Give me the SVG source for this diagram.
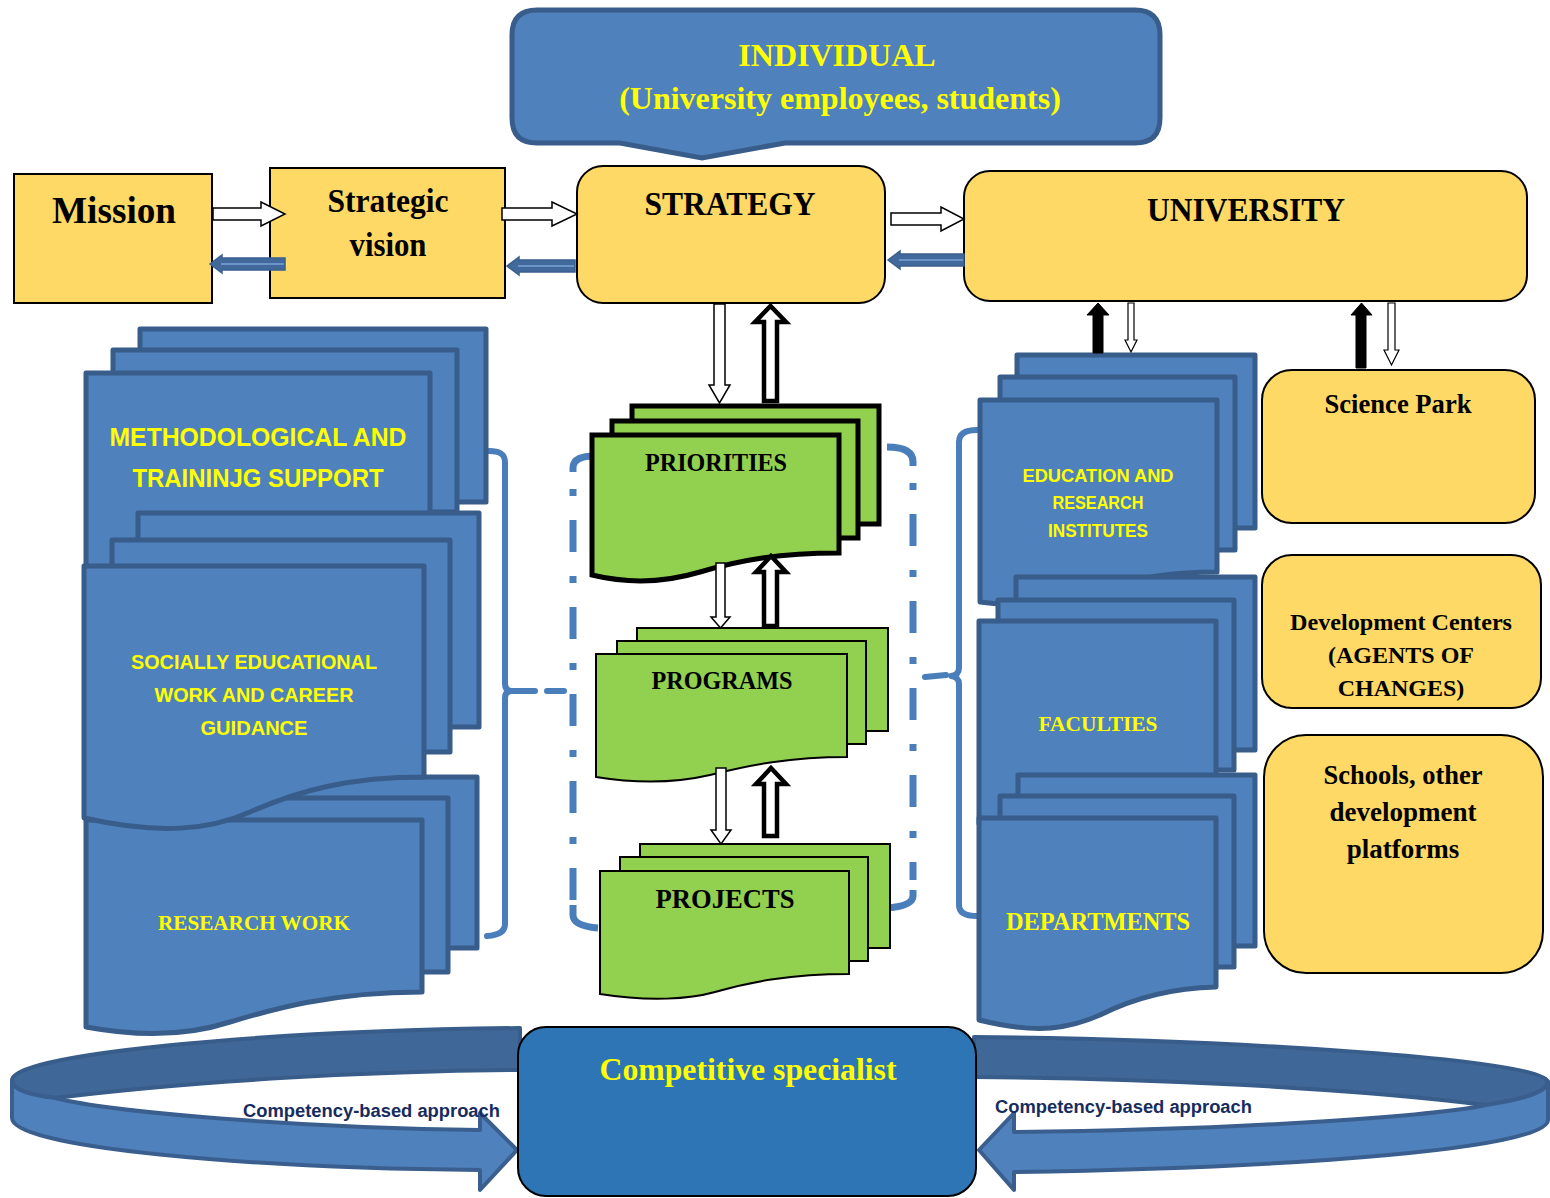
<svg xmlns="http://www.w3.org/2000/svg" width="1550" height="1198" viewBox="0 0 1550 1198">
<style>
.yb{fill:#FFD966;stroke:#000;stroke-width:2}
.doc{fill:#4F81BD;stroke:#385D8A;stroke-width:5;stroke-linejoin:round}
.g1{fill:#92D050;stroke:#000;stroke-width:5;stroke-linejoin:miter}
.g2{fill:#92D050;stroke:#000;stroke-width:2}
.ts{font-family:"Liberation Serif","Times New Roman",serif;font-weight:bold;text-anchor:middle}
.ss{font-family:"Liberation Sans",Arial,sans-serif;font-weight:bold;text-anchor:middle;fill:#FFFF00}
.yt{fill:#FFFF00}
.kt{fill:#000}
.warr{fill:#fff;stroke:#000;stroke-width:1.5;stroke-linejoin:miter}
.oarr{fill:#fff;stroke:#000;stroke-width:4.5;stroke-linejoin:miter}
.karr{fill:#000;stroke:#000;stroke-width:1}
.barr{fill:#41699B;stroke:#3A5F8E;stroke-width:1.5}
.bin{stroke:#7AA3D6;stroke-width:1.5;fill:none}
.br{fill:none;stroke:#4A7EBB;stroke-width:6;stroke-linecap:round;stroke-linejoin:round}
.hk{fill:none;stroke:#4A7EBB;stroke-width:7}
.dd{fill:none;stroke:#4A7EBB;stroke-width:7;stroke-dasharray:7 24 32 24}
.rd{fill:#3F6797;stroke:#385D8A;stroke-width:4;stroke-linejoin:round}
.rl{fill:#4F81BD;stroke:#3A5F8E;stroke-width:4;stroke-linejoin:round}
.cba{font-family:"Liberation Sans",Arial,sans-serif;font-weight:bold;fill:#172C5E;font-size:18px}
</style>

<!-- bottom ribbons -->
<g id="ribbon-left">
<path class="rd" d="M520,1028 C250,1031 12,1055 12,1080 C12,1090 30,1095 55,1098 C200,1080 380,1071 520,1070 Z"/>
<path class="rl" d="M12,1080 L12,1118 C12,1148 250,1168 480,1170 L480,1190 L517,1150 L480,1113 L480,1130 C300,1128 110,1112 55,1098 C30,1095 12,1090 12,1080 Z"/>
</g>
<g id="ribbon-right">
<path class="rd" d="M974,1037 C1250,1040 1548,1060 1548,1082 C1548,1092 1520,1100 1486,1105 C1350,1088 1150,1078 974,1077 Z"/>
<path class="rl" d="M1548,1082 L1548,1120 C1548,1148 1300,1168 1014,1172 L1014,1190 L979,1150 L1014,1113 L1014,1132 C1250,1130 1440,1115 1486,1105 C1520,1100 1548,1092 1548,1082 Z"/>
</g>

<!-- brackets -->
<g id="brackets">
<path class="br" d="M487,451 Q505,450 505,462 L505,684 Q505,691 512,691 Q505,691 505,698 L505,924 Q505,935 487,936"/>
<path class="br" d="M512,691 H535 M547,691 H564"/>
<path class="hk" d="M598,456 Q573,455 573,468 V472"/>
<path class="dd" d="M573,489 V900"/>
<path class="hk" d="M573,905 V915 Q573,926 598,928"/>
<path class="hk" d="M887,447 Q913,447 913,462 V466"/>
<path class="dd" d="M913,483 V880"/>
<path class="hk" d="M913,890 V896 Q913,906 887,908"/>
<path class="br" d="M925,677 L946,675"/>
<path class="br" d="M977,430 Q959,430 959,442 L959,668 Q959,675 951,676 Q959,677 959,684 L959,905 Q959,916 977,916"/>
</g>

<g id="individual">
<path d="M537,10 H1135 Q1160,10 1160,35 V118 Q1160,143 1135,143 H785 L702,158 L620,143 H537 Q512,143 512,118 V35 Q512,10 537,10 Z" fill="#4F81BD" stroke="#385D8A" stroke-width="5"/>
<text class="ts yt" x="837" y="66" font-size="32">INDIVIDUAL</text>
<text class="ts yt" x="840" y="109" font-size="32">(University employees, students)</text>
</g>

<g id="mission">
<rect class="yb" x="14" y="174" width="198" height="129"/>
<text class="ts kt" x="114" y="223" font-size="38" textLength="124" lengthAdjust="spacingAndGlyphs">Mission</text>
</g>
<g id="strategic-vision">
<rect class="yb" x="270" y="168" width="235" height="130"/>
<text class="ts kt" x="388" y="212" font-size="33" textLength="121" lengthAdjust="spacingAndGlyphs">Strategic</text>
<text class="ts kt" x="388" y="256" font-size="33" textLength="77" lengthAdjust="spacingAndGlyphs">vision</text>
</g>
<g id="strategy">
<rect class="yb" x="577" y="166" width="308" height="137" rx="26"/>
<text class="ts kt" x="730" y="215" font-size="33" textLength="171" lengthAdjust="spacingAndGlyphs">STRATEGY</text>
</g>
<g id="university">
<rect class="yb" x="964" y="171" width="563" height="130" rx="26"/>
<text class="ts kt" x="1246" y="221" font-size="33" textLength="198" lengthAdjust="spacingAndGlyphs">UNIVERSITY</text>
</g>

<g id="methodological">
<path class="doc" d="M140,329 H486 V502 H140 Z"/>
<path class="doc" d="M113,350 H457 V512 H113 Z"/>
<path class="doc" d="M86,373 H430 V600 H86 Z"/>
<text class="ss" x="258" y="446" font-size="26" textLength="297" lengthAdjust="spacingAndGlyphs">METHODOLOGICAL AND</text>
<text class="ss" x="258" y="487" font-size="26" textLength="251" lengthAdjust="spacingAndGlyphs">TRAININJG SUPPORT</text>
</g>

<g id="research-work">
<path class="doc" d="M140,777 H477 V948 H140 Z"/>
<path class="doc" d="M113,798 H448 V972 H113 Z"/>
<path class="doc" d="M86,820 H422 V992 C330,992 270,1010 230,1022 C190,1035 140,1037 86,1027 Z"/>
<text class="ts yt" x="254" y="930" font-size="20" textLength="192" lengthAdjust="spacingAndGlyphs">RESEARCH  WORK</text>
</g>

<g id="socially-educational">
<path class="doc" d="M138,513 H479 V727 H138 Z"/>
<path class="doc" d="M112,540 H450 V752 H112 Z"/>
<path class="doc" d="M84,566 H424 V777 C350,777 300,790 250,812 C210,830 160,835 84,818 Z"/>
<text class="ss" x="254" y="669" font-size="21" textLength="246" lengthAdjust="spacingAndGlyphs">SOCIALLY EDUCATIONAL</text>
<text class="ss" x="254" y="702" font-size="21" textLength="199" lengthAdjust="spacingAndGlyphs">WORK AND CAREER</text>
<text class="ss" x="254" y="735" font-size="21" textLength="107" lengthAdjust="spacingAndGlyphs">GUIDANCE</text>
</g>

<g id="priorities">
<path class="g1" d="M632,406 H879 V524 H632 Z"/>
<path class="g1" d="M612,421 H858 V538 H612 Z"/>
<path class="g1" d="M592,435 H839 V553 C780,553 740,560 700,572 C660,584 625,583 592,575 Z"/>
<text class="ts kt" x="716" y="471" font-size="25" textLength="142" lengthAdjust="spacingAndGlyphs">PRIORITIES</text>
</g>
<g id="programs">
<path class="g2" d="M637,628 H888 V731 H637 Z"/>
<path class="g2" d="M617,641 H866 V744 H617 Z"/>
<path class="g2" d="M596,654 H847 V757 C790,757 750,765 710,775 C680,782 640,784 596,777 Z"/>
<text class="ts kt" x="722" y="689" font-size="25" textLength="141" lengthAdjust="spacingAndGlyphs">PROGRAMS</text>
</g>
<g id="projects">
<path class="g2" d="M640,844 H890 V948 H640 Z"/>
<path class="g2" d="M620,857 H868 V961 H620 Z"/>
<path class="g2" d="M600,871 H849 V974 C790,974 750,982 715,992 C690,999 650,1002 600,994 Z"/>
<text class="ts kt" x="725" y="908" font-size="27" textLength="139" lengthAdjust="spacingAndGlyphs">PROJECTS</text>
</g>

<g id="education-research-institutes">
<path class="doc" d="M1017,355 H1255 V528 H1017 Z"/>
<path class="doc" d="M1000,377 H1235 V550 H1000 Z"/>
<path class="doc" d="M980,400 H1217 V572 C1170,572 1140,578 1110,586 C1060,600 1020,608 980,602 Z"/>
<text class="ss" x="1098" y="482" font-size="18" textLength="151" lengthAdjust="spacingAndGlyphs">EDUCATION AND</text>
<text class="ss" x="1098" y="509" font-size="18" textLength="91" lengthAdjust="spacingAndGlyphs">RESEARCH</text>
<text class="ss" x="1098" y="537" font-size="18" textLength="100" lengthAdjust="spacingAndGlyphs">INSTITUTES</text>
</g>
<g id="faculties">
<path class="doc" d="M1016,577 H1255 V750 H1016 Z"/>
<path class="doc" d="M998,600 H1234 V770 H998 Z"/>
<path class="doc" d="M979,621 H1216 V800 C1150,805 1050,830 979,824 Z"/>
<text class="ts yt" x="1098" y="731" font-size="21" textLength="119" lengthAdjust="spacingAndGlyphs">FACULTIES</text>
</g>
<g id="departments">
<path class="doc" d="M1018,775 H1255 V946 H1018 Z"/>
<path class="doc" d="M1000,796 H1234 V967 H1000 Z"/>
<path class="doc" d="M979,818 H1216 V987 C1170,988 1130,1000 1100,1015 C1070,1028 1040,1035 979,1020 Z"/>
<text class="ts yt" x="1098" y="930" font-size="25" textLength="184" lengthAdjust="spacingAndGlyphs">DEPARTMENTS</text>
</g>

<g id="science-park">
<rect class="yb" x="1262" y="370" width="273" height="153" rx="30"/>
<text class="ts kt" x="1398" y="413" font-size="27" textLength="147" lengthAdjust="spacingAndGlyphs">Science Park</text>
</g>
<g id="development-centers">
<rect class="yb" x="1262" y="555" width="279" height="153" rx="30"/>
<text class="ts kt" x="1401" y="630" font-size="24" textLength="222" lengthAdjust="spacingAndGlyphs">Development Centers</text>
<text class="ts kt" x="1401" y="663" font-size="24">(AGENTS OF</text>
<text class="ts kt" x="1401" y="696" font-size="24">CHANGES)</text>
</g>
<g id="schools">
<rect class="yb" x="1264" y="735" width="279" height="238" rx="42"/>
<text class="ts kt" x="1403" y="784" font-size="27" textLength="159" lengthAdjust="spacingAndGlyphs">Schools, other</text>
<text class="ts kt" x="1403" y="821" font-size="27">development</text>
<text class="ts kt" x="1403" y="858" font-size="27">platforms</text>
</g>

<g id="competitive-specialist">
<rect x="518" y="1027" width="458" height="169" rx="28" fill="#2E75B6" stroke="#000" stroke-width="2"/>
<text class="ts yt" x="748" y="1080" font-size="32" textLength="297" lengthAdjust="spacingAndGlyphs">Competitive specialist</text>
</g>

<g id="labels">
<text class="cba" x="243" y="1117" textLength="257" lengthAdjust="spacingAndGlyphs">Competency-based approach</text>
<text class="cba" x="995" y="1113" textLength="257" lengthAdjust="spacingAndGlyphs">Competency-based approach</text>
</g>

<g id="connectors">
<path class="warr" d="M213,208 H261 V202 L285,214 L261,226 V220 H213 Z"/>
<path class="warr" d="M502,208 H552 V202 L577,214 L552,226 V220 H502 Z"/>
<path class="warr" d="M891,213 H941 V207 L964,219 L941,231 V225 H891 Z"/>
<path class="barr" d="M285,258 H222 V255 L210,264 L222,273 V270 H285 Z"/>
<path class="bin" d="M221,264 H284"/>
<path class="barr" d="M575,260 H519 V257 L507,266 L519,275 V272 H575 Z"/>
<path class="bin" d="M518,266 H574"/>
<path class="barr" d="M964,254 H900 V251 L888,260 L900,269 V266 H964 Z"/>
<path class="bin" d="M899,260 H963"/>
<path class="warr" d="M714,304 V385 H709 L719.5,403 L730,385 H725 V304 Z"/>
<path class="warr" d="M716,563 V617 H711 L720.5,628 L730,617 H725 V563 Z"/>
<path class="warr" d="M716,768 V830 H711 L721,844 L731,830 H726 V768 Z"/>
<path class="oarr" d="M764,401 V322 H755 L770.5,306 L786,322 H777 V401 Z"/>
<path class="oarr" d="M764,626 V572 H756 L771,556 L786,572 H777 V626 Z"/>
<path class="oarr" d="M764,836 V784 H756 L771,768 L786,784 H777 V836 Z"/>
<path class="karr" d="M1093,353 V315 H1087 L1098,303 L1109,315 H1103 V353 Z"/>
<path class="warr" style="stroke-width:1.2" d="M1128,303 V340 H1125 L1131,352 L1137,340 H1134 V303 Z"/>
<path class="karr" d="M1356,368 V315 H1351 L1361.5,303 L1372,315 H1366 V368 Z"/>
<path class="warr" style="stroke-width:1.2" d="M1388,303 V350 H1384 L1391.5,365 L1399,350 H1395 V303 Z"/>
</g>
</svg>
